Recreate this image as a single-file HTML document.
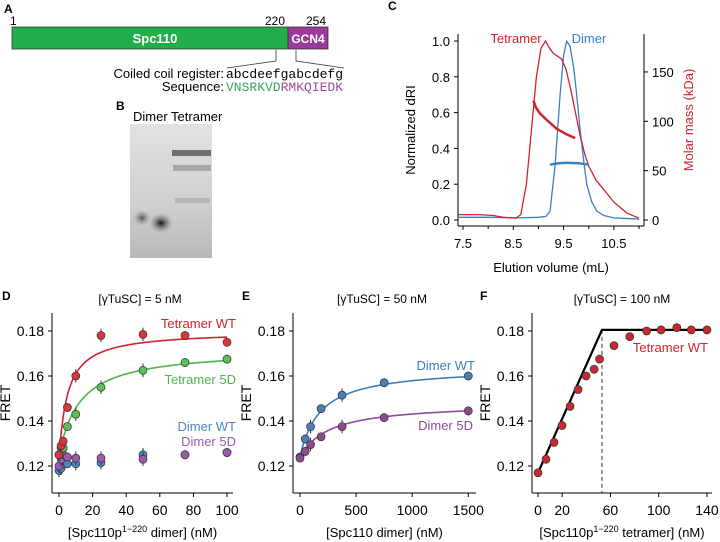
<!DOCTYPE html>
<html><head><meta charset="utf-8"><style>
body{margin:0;background:#fff;}
svg{display:block;font-family:"Liberation Sans",sans-serif;}
.mono{font-family:"Liberation Mono",monospace;}
</style></head><body>
<svg id="fig" width="720" height="542" viewBox="0 0 720 542" xmlns="http://www.w3.org/2000/svg">
<defs>
<radialGradient id="blob1" cx="0.5" cy="0.5" r="0.5"><stop offset="0" stop-color="#111"/><stop offset="1" stop-color="#888" stop-opacity="0"/></radialGradient>
<radialGradient id="blob2" cx="0.5" cy="0.5" r="0.5"><stop offset="0" stop-color="#555"/><stop offset="1" stop-color="#999" stop-opacity="0"/></radialGradient>
<linearGradient id="gelbg" x1="0" y1="0" x2="0" y2="1"><stop offset="0" stop-color="#e2e2e2"/><stop offset="0.6" stop-color="#cfcfcf"/><stop offset="1" stop-color="#b8b8b8"/></linearGradient>
</defs>
<g>
<text x="4" y="13" font-size="12" font-weight="bold">A</text>
<text x="10" y="25" font-size="12">1</text>
<text x="265" y="25" font-size="12">220</text>
<text x="306" y="25" font-size="12">254</text>
<rect x="12" y="27" width="276" height="22" fill="#23ad4b" stroke="#333" stroke-width="0.8"/>
<rect x="288" y="27" width="40" height="22" fill="#9b3a98" stroke="#333" stroke-width="0.8"/>
<text x="155" y="43" font-size="13" font-weight="bold" fill="#fff" text-anchor="middle">Spc110</text>
<text x="308" y="43" font-size="12" font-weight="bold" fill="#fff" text-anchor="middle">GCN4</text>
<polyline points="276,50 276,61 227,68" fill="none" stroke="#333" stroke-width="0.8"/>
<polyline points="296,50 296,61 344,68" fill="none" stroke="#333" stroke-width="0.8"/>
<text x="224" y="78" font-size="13" text-anchor="end">Coiled coil register:</text>
<text x="226" y="78" font-size="13" class="mono">abcdeefgabcdefg</text>
<text x="224" y="91" font-size="13" text-anchor="end">Sequence:</text>
<text x="226" y="91" font-size="13" class="mono"><tspan fill="#3aa35f">VNSRKVD</tspan><tspan fill="#9b4a9b">RMKQIEDK</tspan></text>
</g>
<g>
<text x="116" y="110" font-size="12" font-weight="bold">B</text>
<text x="133" y="121" font-size="13">Dimer Tetramer</text>
<rect x="130" y="124" width="82" height="134" fill="url(#gelbg)"/>
<rect x="172" y="150" width="39" height="6" fill="#555" opacity="0.8"/>
<rect x="173" y="165" width="38" height="6" fill="#888" opacity="0.6"/>
<rect x="175" y="198" width="35" height="5" fill="#999" opacity="0.5"/>
<ellipse cx="161" cy="223" rx="12" ry="10" fill="url(#blob1)"/>
<ellipse cx="142" cy="218" rx="9" ry="8" fill="url(#blob2)"/>
</g>
<g id="panelC"></g>
<g id="panelD"></g>
<g id="panelE"></g>
<g id="panelF"></g>
</svg>
<script>
const NS="http://www.w3.org/2000/svg";
const cTickLabelsX=[7.5,8.5,9.5,10.5];
const cTickLabelsY=[0,0.2,0.4,0.6,0.8,1.0];
const cTickLabelsR=[0,50,100,150];
const tetVol=[7.4,7.8,8.1,8.3,8.55,8.65,8.76,8.86,8.96,9.05,9.14,9.22,9.3,9.46,9.55,9.65,9.75,9.83,9.92,10.0,10.15,10.3,10.5,10.75,11.0];
const tetDRI=[0.03,0.03,0.025,0.015,0.01,0.03,0.2,0.5,0.8,0.96,1.0,0.96,0.93,0.90,0.84,0.72,0.58,0.47,0.37,0.3,0.22,0.17,0.1,0.04,0.01];
const dimVol=[7.4,8.0,8.6,9.0,9.15,9.23,9.33,9.43,9.5,9.56,9.63,9.7,9.76,9.83,9.9,9.96,10.06,10.16,10.3,10.5,11.0];
const dimDRI=[0.015,0.015,0.012,0.015,0.02,0.05,0.3,0.7,0.92,1.0,0.97,0.85,0.7,0.5,0.33,0.2,0.1,0.05,0.025,0.012,0.005];
const tetMassVol=[8.9,8.95,9.03,9.15,9.36,9.55,9.73];
const tetMass=[121,114,108,102,92.5,87,83];
const dimMassVol=[9.23,9.4,9.56,9.8,10.0];
const dimMass=[56,57.5,58,57.5,56];
const dConc=[0,1.25,2.5,5,10,25,50,75,100];
const dTetWT=[0.125,0.129,0.131,0.146,0.160,0.178,0.1785,0.178,0.175];
const dTet5D=[0.125,0.128,0.128,0.1375,0.143,0.155,0.1625,0.166,0.1675];
const dDimWT=[0.118,0.119,0.121,0.121,0.121,0.1215,0.125,0.125,0.126];
const dDim5D=[0.120,0.123,0.125,0.124,0.1235,0.1235,0.123,0.125,0.126];
const dErr=[0.003,0.003,0.002,0.002,0.003,0.003,0.003,0.002,0.002];
const dFitTetWT=[0.123,0.057,5];
const dFitTet5D=[0.124,0.048,12];
const dTicksX=[0,20,40,60,80,100];
const fretTicks=[0.12,0.14,0.16,0.18];
const eConc=[0,47,94,188,375,750,1500];
const eDimWT=[0.124,0.132,0.1375,0.1455,0.1515,0.157,0.160];
const eDim5D=[0.1235,0.1265,0.1295,0.133,0.1375,0.1415,0.1445];
const eErr=[0.001,0.002,0.003,0.001,0.003,0.002,0.002];
const eFitWT=[0.124,0.040,180];
const eFit5D=[0.1235,0.0245,250];
const eTicksX=[0,500,1000,1500];
const fConc=[0,6.6,13.3,19.9,26.6,33.2,39.8,46.5,51,63,76,90,102,115,127,140];
const fTetWT=[0.117,0.123,0.1305,0.138,0.1465,0.154,0.160,0.163,0.1675,0.1735,0.1775,0.180,0.1805,0.1815,0.1805,0.1805];
const fBreak=[53,0.117,0.1805];
const fTicksX=[0,20,60,100,140];

function el(parent,tag,attrs,name,inter){const e=document.createElementNS(NS,tag);for(const k in attrs)e.setAttribute(k,attrs[k]);


parent.appendChild(e);return e;}
function txt(parent,x,y,s,opts,name){const t=el(parent,'text',Object.assign({x:x,y:y,'font-size':13},opts||{}),name);t.textContent=s;return t;}

(function(){
const g=document.getElementById('panelC');
const sx=v=>463+(v-7.5)*50.3, sy=v=>220-v*179, sr=v=>220-v*0.987;
txt(g,388,10,'C',{'font-size':12,'font-weight':'bold'},'panel-label-c');
el(g,'line',{x1:458,y1:34,x2:458,y2:226,stroke:'#000','stroke-width':1},'c-left-axis');
el(g,'line',{x1:644,y1:34,x2:644,y2:226,stroke:'#000','stroke-width':1},'c-right-axis');
el(g,'line',{x1:458,y1:226,x2:644,y2:226,stroke:'#000','stroke-width':1},'c-x-axis');
cTickLabelsY.forEach(v=>{el(g,'line',{x1:454,y1:sy(v),x2:458,y2:sy(v),stroke:'#000'},'c-y-tick');txt(g,450,sy(v)+5,v.toFixed(1),{'text-anchor':'end'},'c-y-tick-label');});
cTickLabelsR.forEach(v=>{el(g,'line',{x1:644,y1:sr(v),x2:648,y2:sr(v),stroke:'#000'},'c-right-tick');txt(g,652,sr(v)+5,String(v),{},'c-right-tick-label');});
cTickLabelsX.forEach(v=>{el(g,'line',{x1:sx(v),y1:226,x2:sx(v),y2:230,stroke:'#000'},'c-x-tick');txt(g,sx(v),248,v.toFixed(1),{'text-anchor':'middle'},'c-x-tick-label');});
[8,9,10,11].forEach(v=>{if(sx(v)<644)el(g,'line',{x1:sx(v),y1:226,x2:sx(v),y2:229,stroke:'#000'},'c-x-minor-tick');});
txt(g,551,272,'Elution volume (mL)',{'text-anchor':'middle'},'c-x-axis-title');
txt(g,0,0,'Normalized dRI',{'text-anchor':'middle',transform:'translate(415,130) rotate(-90)'},'c-y-axis-title');
txt(g,0,0,'Molar mass (kDa)',{'text-anchor':'middle',fill:'#d0232e',transform:'translate(693,120) rotate(-90)'},'c-right-axis-title');
const pts=(xs,ys,fy)=>xs.map((x,i)=>sx(x).toFixed(1)+','+fy(ys[i]).toFixed(1)).join(' ');
el(g,'polyline',{points:pts(dimVol,dimDRI,sy),fill:'none',stroke:'#3a7fbf','stroke-width':1.3},'c-dimer-dri-curve');
el(g,'polyline',{points:pts(tetVol,tetDRI,sy),fill:'none',stroke:'#d0232e','stroke-width':1.3},'c-tetramer-dri-curve');
el(g,'polyline',{points:pts(tetMassVol,tetMass,sr),fill:'none',stroke:'#d0232e','stroke-width':2.5},'c-tetramer-mass-curve');
el(g,'polyline',{points:pts(dimMassVol,dimMass,sr),fill:'none',stroke:'#3a7fbf','stroke-width':2.5},'c-dimer-mass-curve');
txt(g,516,43,'Tetramer',{'text-anchor':'middle',fill:'#d0232e'},'c-tetramer-label');
txt(g,589,43,'Dimer',{'text-anchor':'middle',fill:'#3a7fbf'},'c-dimer-label');
})();
function fretAxes(g,ax,x0,x1,sx,ticks,title,xtitle,label,lx,tx){
 const sy=v=>331+(0.18-v)*2250;
 txt(g,lx,300,label,{'font-size':12,'font-weight':'bold'},'panel-label-'+label.toLowerCase());
 txt(g,tx,303,title,{'text-anchor':'middle','font-size':12},'panel-title-'+label.toLowerCase());
 el(g,'line',{x1:ax,y1:313,x2:ax,y2:493,stroke:'#000'},'y-axis-'+label.toLowerCase());
 el(g,'line',{x1:ax,y1:493,x2:x1,y2:493,stroke:'#000'},'x-axis-'+label.toLowerCase());
 fretTicks.forEach(v=>{el(g,'line',{x1:ax-4,y1:sy(v),x2:ax,y2:sy(v),stroke:'#000'},'y-tick');txt(g,ax-8,sy(v)+5,v.toFixed(2),{'text-anchor':'end','font-size':14},'y-tick-label');});
 ticks.forEach(v=>{el(g,'line',{x1:sx(v),y1:493,x2:sx(v),y2:497,stroke:'#000'},'x-tick');txt(g,sx(v),515,String(v),{'text-anchor':'middle','font-size':14},'x-tick-label');});
 txt(g,0,0,'FRET',{'text-anchor':'middle','font-size':14,transform:'translate('+(ax-42)+',403) rotate(-90)'},'y-axis-title');
 const xt=el(g,'text',{x:(ax+x1)/2,y:537,'text-anchor':'middle','font-size':13},'x-axis-title');xt.innerHTML=xtitle;
 return sy;
}
function series(g,xs,ys,errs,col,sx,sy,name){
 xs.forEach((c,i)=>{
  if(errs){el(g,'line',{x1:sx(c),y1:sy(ys[i]-errs[i]),x2:sx(c),y2:sy(ys[i]+errs[i]),stroke:'#333','stroke-width':1},name+'-errorbar');}
  el(g,'circle',{cx:sx(c),cy:sy(ys[i]),r:4,fill:col,stroke:'#333','stroke-width':0.7},name+'-point');
 });
}
function fit(g,p,xmax,col,sx,sy,name){
 let s='';for(let i=0;i<=200;i++){const x=xmax*i/200;const y=p[0]+p[1]*x/(p[2]+x);s+=sx(x).toFixed(1)+','+sy(y).toFixed(1)+' ';}
 el(g,'polyline',{points:s,fill:'none',stroke:col,'stroke-width':1.6},name);
}
(function(){const g=document.getElementById('panelD');const sx=v=>59+v*1.68;
const sy=fretAxes(g,52,59,233,sx,dTicksX,'[γTuSC] = 5 nM','[Spc110p<tspan dy="-5" font-size="9">1−220</tspan><tspan dy="5"> dimer] (nM)</tspan>','D',2,140);
fit(g,dFitTetWT,100,'#d0232e',sx,sy,'tetramer-wt-fit');fit(g,dFitTet5D,100,'#4cb64c',sx,sy,'tetramer-5d-fit');
series(g,dConc,dDimWT,dErr,'#4a86c0',sx,sy,'dimer-wt');series(g,dConc,dDim5D,dErr,'#9b5aae',sx,sy,'dimer-5d');
series(g,dConc,dTet5D,dErr,'#5cbf5c',sx,sy,'tetramer-5d');series(g,dConc,dTetWT,dErr,'#d8363d',sx,sy,'tetramer-wt');
txt(g,236,328,'Tetramer WT',{'text-anchor':'end',fill:'#d0232e','font-size':13},'legend-tetramer-wt');
txt(g,236,384,'Tetramer 5D',{'text-anchor':'end',fill:'#4cb64c','font-size':13},'legend-tetramer-5d');
txt(g,236,431,'Dimer WT',{'text-anchor':'end',fill:'#4a86c0','font-size':13},'legend-dimer-wt');
txt(g,236,446,'Dimer 5D',{'text-anchor':'end',fill:'#9b5aae','font-size':13},'legend-dimer-5d');
})();
(function(){const g=document.getElementById('panelE');const sx=v=>300+v*0.1122;
const sy=fretAxes(g,293,300,476,sx,eTicksX,'[γTuSC] = 50 nM','[Spc110 dimer] (nM)','E',242,382);
fit(g,eFitWT,1500,'#3a7fbf',sx,sy,'dimer-wt-fit');fit(g,eFit5D,1500,'#8e4a9e',sx,sy,'dimer-5d-fit');
series(g,eConc,eDimWT,eErr,'#4a7fb5',sx,sy,'dimer-wt');series(g,eConc,eDim5D,eErr,'#8e4a8e',sx,sy,'dimer-5d');
txt(g,475,370,'Dimer WT',{'text-anchor':'end',fill:'#3a7fbf','font-size':13},'legend-dimer-wt');
txt(g,473,430,'Dimer 5D',{'text-anchor':'end',fill:'#8e4a9e','font-size':13},'legend-dimer-5d');
})();
(function(){const g=document.getElementById('panelF');const sx=v=>538+v*1.207;
const sy=fretAxes(g,532,538,712,sx,fTicksX,'[γTuSC] = 100 nM','[Spc110p<tspan dy="-5" font-size="9">1−220</tspan><tspan dy="5"> tetramer] (nM)</tspan>','F',480,622);
el(g,'line',{x1:sx(fBreak[0]),y1:sy(fBreak[2]),x2:sx(fBreak[0]),y2:493,stroke:'#333','stroke-dasharray':'4,3'},'saturation-dashed-line');
el(g,'polyline',{points:sx(0)+','+sy(fBreak[1])+' '+sx(fBreak[0])+','+sy(fBreak[2])+' '+sx(140)+','+sy(fBreak[2]),fill:'none',stroke:'#000','stroke-width':2.2},'stoichiometric-fit-line');
series(g,fConc,fTetWT,null,'#c8282f',sx,sy,'tetramer-wt');
txt(g,708,352,'Tetramer WT',{'text-anchor':'end',fill:'#d0232e','font-size':13},'legend-tetramer-wt');
})();
</script>
</body></html>
